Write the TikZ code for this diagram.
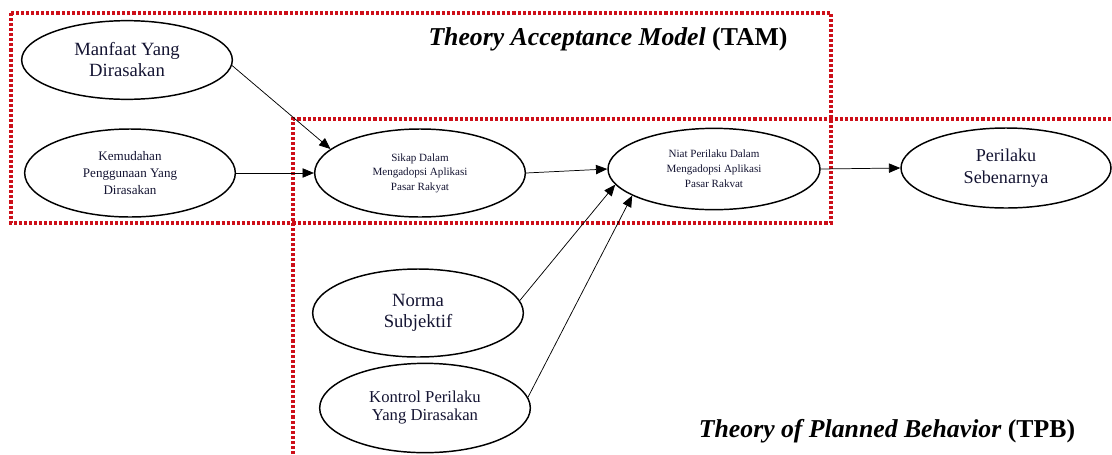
\documentclass[tikz,border=0pt]{standalone}
\usepackage{fontspec}
\setmainfont{Liberation Serif}
\usetikzlibrary{shapes.geometric,arrows.meta}
\definecolor{boxred}{RGB}{205,15,25}
\definecolor{txt}{RGB}{20,20,50}
\tikzset{
  oval/.style={ellipse,draw,line width=1.1pt,inner sep=0pt,align=center,text=txt},
  conn/.style={line width=0.55pt,-{Triangle[length=8.5pt,width=7pt]}},
  redbox/.style={boxred,line width=2.4pt,dash pattern=on 2.3pt off 1.5pt},
  title/.style={font=\fontsize{19.3}{22}\selectfont\bfseries}
}
\begin{document}
\begin{tikzpicture}[x=0.75pt,y=-0.75pt]
\useasboundingbox (0,0) rectangle (1112,454);
% boxes
\draw[redbox] (11,13) rectangle (831,223);
\draw[redbox] (293,454) -- (293,119) -- (1112,119);
% nodes
\node[oval,font=\fontsize{14}{15.75}\selectfont,minimum width=158pt,minimum height=59pt] (pu) at (127,60) {Manfaat Yang\\Dirasakan};
\node[oval,font=\fontsize{9.8}{12.4}\selectfont,minimum width=158pt,minimum height=66pt] (peou) at (130,173) {Kemudahan\\Penggunaan Yang\\Dirasakan};
\node[oval,font=\fontsize{8.3}{10.9}\selectfont,minimum width=158pt,minimum height=66pt] (att) at (420,173) {Sikap Dalam\\Mengadopsi Aplikasi\\Pasar Rakyat};
\node[oval,font=\fontsize{8.3}{11.2}\selectfont,minimum width=159pt,minimum height=61pt] (bi) at (714,169) {Niat Perilaku Dalam\\Mengadopsi Aplikasi\\Pasar Rakvat};
\node[oval,font=\fontsize{13.6}{16}\selectfont,minimum width=157.5pt,minimum height=60pt] (ab) at (1006,168) {Perilaku\\Sebenarnya};
\node[oval,font=\fontsize{14}{15.75}\selectfont,minimum width=158pt,minimum height=66pt] (sn) at (418,313) {Norma\\Subjektif};
\node[oval,font=\fontsize{12.5}{13.5}\selectfont,minimum width=158pt,minimum height=67pt] (pbc) at (425,408) {Kontrol Perilaku\\Yang Dirasakan};
% connectors
\draw[conn] (pu.-3) -- (att.165);
\draw[conn] (peou.east) -- (att.west);
\draw[conn] (att.east) -- (bi.west);
\draw[conn] (bi.east) -- (ab.west);
\draw[conn] (sn.7) -- (bi.189);
\draw[conn] (pbc.6) -- (bi.198);
% titles
\node[title] (tam) at (608,39) {\textit{Theory Acceptance Model} (TAM)};
\node[title] (tpb) at (887,431) {\textit{Theory of Planned Behavior} (TPB)};
\end{tikzpicture}
\end{document}
